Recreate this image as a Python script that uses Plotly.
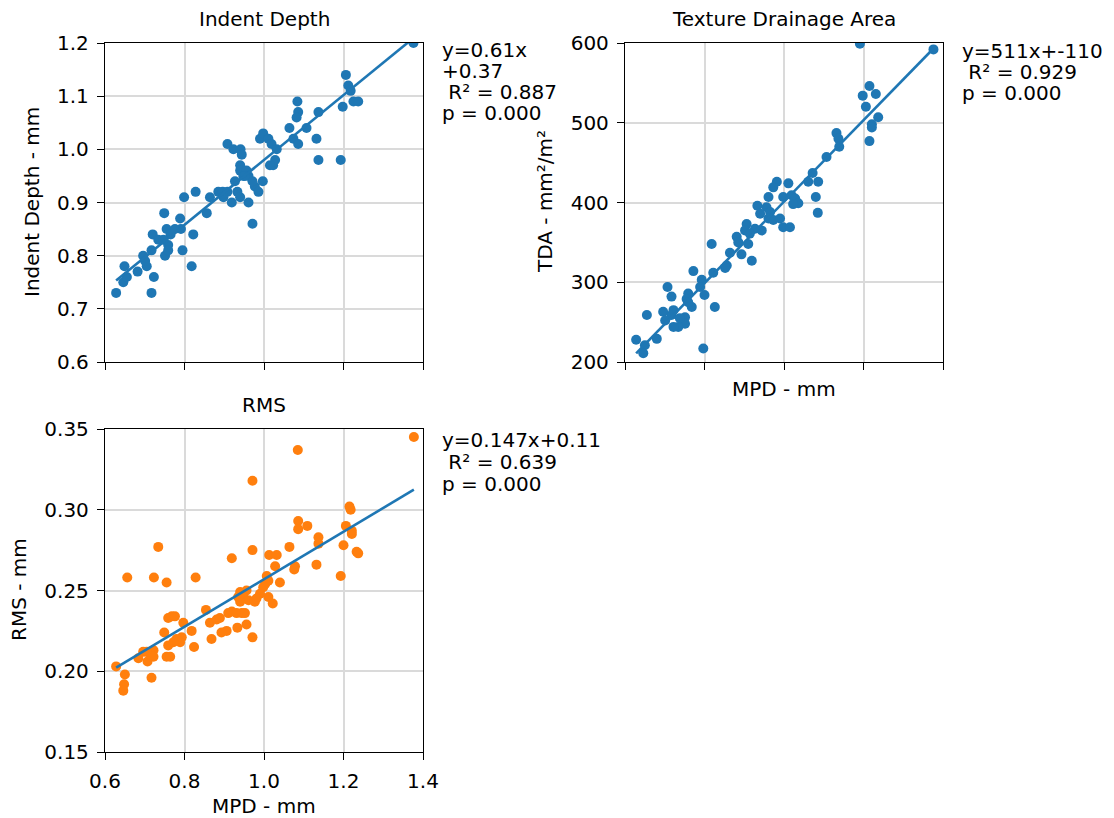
import plotly.graph_objects as go

W, H = 1114, 818
PAGE_MARGIN = 8  # the page body adds 8px around the plot div
FONT = "DejaVu Sans"
BLUE = "#1f77b4"
ORANGE = "#ff7f0e"

# ---- data (x = MPD in mm) ----
mpd_depth = [0.628, 0.649, 0.646, 0.655, 0.682, 0.696, 0.705, 0.701, 0.717, 0.723,
             0.717, 0.720, 0.734, 0.749, 0.755, 0.751, 0.759, 0.765, 0.759, 0.747,
             0.789, 0.791, 0.795, 0.799, 0.776, 0.822, 0.818, 0.828, 0.856, 0.864,
             0.885, 0.896, 0.908, 0.919, 0.908, 0.923, 0.941, 0.944, 0.940, 0.940,
             0.927, 0.933, 0.940, 0.956, 0.961, 0.948, 0.961, 0.971, 0.977, 0.986,
             0.971, 0.997, 0.990, 0.998, 1.011, 1.019, 1.023, 1.028, 1.032, 1.015,
             1.064, 1.074, 1.084, 1.086, 1.082, 1.086, 1.107, 1.137, 1.132, 1.137,
             1.193, 1.198, 1.206, 1.212, 1.218, 1.225, 1.237, 1.376, 0.898, 0.952]
depth = [0.73, 0.78, 0.75, 0.76, 0.77, 0.80, 0.78, 0.79, 0.73, 0.76,
         0.81, 0.84, 0.83, 0.88, 0.85, 0.80, 0.82, 0.84, 0.81, 0.83,
         0.87, 0.85, 0.81, 0.91, 0.85, 0.84, 0.78, 0.92, 0.88, 0.91,
         0.92, 0.92, 0.92, 0.90, 1.01, 1.00, 1.00, 0.99, 0.97, 0.96,
         0.94, 0.92, 0.91, 0.96, 0.95, 0.95, 0.90, 0.86, 0.93, 0.92,
         0.94, 0.94, 1.02, 1.03, 1.02, 1.01, 0.97, 0.98, 1.00, 0.97,
         1.04, 1.02, 1.09, 1.07, 1.06, 1.01, 1.04, 1.07, 1.02, 0.98,
         0.98, 1.08, 1.14, 1.12, 1.11, 1.09, 1.09, 1.20, 0.91, 0.95]

mpd_tda = [1.191, 1.376, 1.215, 1.198, 1.231, 1.206, 1.237, 1.221, 1.221, 1.215,
           1.132, 1.137, 1.139, 1.107, 1.072, 1.061, 1.086, 1.080, 1.085, 1.011,
           0.998, 1.019, 1.028, 1.036, 1.023, 0.982, 0.973, 0.961, 0.933, 0.956,
           0.965, 0.961, 0.973, 0.990, 0.940, 0.998, 1.015, 0.944, 0.927, 0.906,
           0.902, 0.914, 0.881, 0.885, 0.910, 0.864, 0.893, 0.919, 0.856, 0.852,
           0.818, 0.822, 0.793, 0.789, 0.800, 0.826, 0.772, 0.759, 0.755, 0.768,
           0.751, 0.751, 0.734, 0.722, 0.717, 0.722, 0.696, 0.701, 0.707, 0.717,
           0.655, 0.680, 0.628, 0.650, 0.646, 0.797, 0.759, 0.738]
tda = [599, 592, 546, 534, 536, 520, 507, 498, 494, 477,
       487, 480, 470, 457, 437, 426, 426, 407, 387, 424,
       407, 409, 405, 399, 398, 426, 419, 407, 396, 394,
       388, 380, 378, 380, 386, 369, 369, 365, 367, 373,
       365, 361, 357, 350, 348, 337, 335, 327, 321, 318,
       348, 312, 303, 294, 284, 269, 314, 286, 279, 269,
       256, 248, 244, 244, 259, 265, 263, 252, 294, 282,
       259, 229, 228, 221, 211, 217, 275, 255]

mpd_rms = [1.377, 1.085, 0.971, 1.215, 1.218, 1.086, 1.086, 1.109, 1.206, 1.221,
           1.221, 1.137, 1.137, 0.734, 1.064, 1.200, 1.233, 1.237, 0.971, 0.919,
           1.013, 1.032, 1.028, 1.078, 1.076, 1.132, 1.040, 1.193, 0.656, 0.723,
           0.755, 0.828, 1.007, 1.011, 1.003, 0.998, 0.940, 0.956, 0.948, 0.961,
           0.977, 0.940, 0.990, 1.011, 1.022, 0.854, 0.864, 0.881, 0.889, 0.910,
           0.919, 0.931, 0.944, 0.952, 0.956, 0.971, 0.933, 0.906, 0.893, 0.868,
           0.759, 0.768, 0.776, 0.797, 0.818, 0.749, 0.793, 0.789, 0.780, 0.772,
           0.759, 0.824, 0.755, 0.764, 0.722, 0.713, 0.705, 0.696, 0.722, 0.707,
           0.684, 0.628, 0.650, 0.648, 0.646, 0.717, 0.935, 0.981]
rms = [0.345, 0.337, 0.318, 0.302, 0.300, 0.293, 0.288, 0.290, 0.290, 0.287,
       0.285, 0.283, 0.279, 0.277, 0.277, 0.278, 0.274, 0.273, 0.275, 0.270,
       0.272, 0.272, 0.265, 0.265, 0.263, 0.266, 0.255, 0.259, 0.258, 0.258,
       0.255, 0.258, 0.259, 0.256, 0.254, 0.252, 0.249, 0.250, 0.246, 0.244,
       0.243, 0.243, 0.248, 0.246, 0.242, 0.238, 0.230, 0.232, 0.233, 0.236,
       0.237, 0.236, 0.236, 0.236, 0.229, 0.221, 0.227, 0.225, 0.224, 0.220,
       0.233, 0.234, 0.234, 0.230, 0.225, 0.224, 0.221, 0.218, 0.220, 0.218,
       0.216, 0.215, 0.209, 0.209, 0.213, 0.211, 0.212, 0.212, 0.209, 0.206,
       0.208, 0.203, 0.198, 0.192, 0.188, 0.196, 0.246, 0.245]

# fits as printed on the chart (slope, intercept)
fit_depth = (0.61, 0.37)
fit_tda = (511, -110)
fit_rms = (0.147, 0.11)

stats_depth = ["y=0.61x", "+0.37", "\u00a0R² = 0.887", "p = 0.000"]
stats_tda = ["y=511x+-110", "\u00a0R² = 0.929", "p = 0.000"]
stats_rms = ["y=0.147x+0.11", "\u00a0R² = 0.639", "p = 0.000"]

mpd_ticks = [0.6, 0.8, 1.0, 1.2, 1.4]
depth_ticks = [0.6, 0.7, 0.8, 0.9, 1.0, 1.1, 1.2]
tda_ticks = [200, 300, 400, 500, 600]
rms_ticks = [0.15, 0.20, 0.25, 0.30, 0.35]

FW, FH = W - PAGE_MARGIN, H - PAGE_MARGIN


# positions below are given in screen pixels and shifted into figure space
def px_x(p):
    return (p - PAGE_MARGIN) / FW


def px_y(p):
    return 1 - (p - PAGE_MARGIN) / FH


def axis(**kw):
    base = dict(showline=True, linecolor="black", linewidth=1.3, mirror=True,
                ticks="outside", ticklen=7, tickwidth=1.3, tickcolor="black",
                showgrid=True, gridcolor="#dadada", gridwidth=1.5,
                zeroline=False, automargin=False, ticklabelstandoff=4,
                tickfont=dict(family=FONT, size=20, color="black"))
    base.update(kw)
    return base


def fit_line(xs, fit, axes):
    lo, hi = min(xs), max(xs)
    a, b = fit
    return go.Scatter(x=[lo, hi], y=[a * lo + b, a * hi + b], mode="lines",
                      line=dict(color=BLUE, width=2.6), xaxis=axes[0], yaxis=axes[1],
                      hoverinfo="skip")


def dots(xs, ys, color, axes):
    return go.Scatter(x=xs, y=ys, mode="markers",
                      marker=dict(color=color, size=10, line=dict(width=0)),
                      xaxis=axes[0], yaxis=axes[1])


fig = go.Figure()
fig.add_trace(dots(mpd_depth, depth, BLUE, ("x", "y")))
fig.add_trace(fit_line(mpd_depth, fit_depth, ("x", "y")))
fig.add_trace(dots(mpd_tda, tda, BLUE, ("x2", "y2")))
fig.add_trace(fit_line(mpd_tda, fit_tda, ("x2", "y2")))
fig.add_trace(dots(mpd_rms, rms, ORANGE, ("x3", "y3")))
fig.add_trace(fit_line(mpd_rms, fit_rms, ("x3", "y3")))

# panel boxes in pixels: left, right, top, bottom
p1 = (105, 423, 43, 362)
p2 = (625, 943, 43, 362)
p3 = (105, 423, 429, 752)


def dom(p):
    return [px_x(p[0]), px_x(p[1])], [px_y(p[3]), px_y(p[2])]


d1, d2, d3 = dom(p1), dom(p2), dom(p3)

fig.update_layout(
    xaxis=axis(domain=d1[0], anchor="y", range=[0.6, 1.4], tickvals=mpd_ticks,
               showticklabels=False),
    yaxis=axis(domain=d1[1], anchor="x", range=[0.6, 1.2], tickvals=depth_ticks,
               tickformat=".1f"),
    xaxis2=axis(domain=d2[0], anchor="y2", range=[0.6, 1.4], tickvals=mpd_ticks,
                showticklabels=False),
    yaxis2=axis(domain=d2[1], anchor="x2", range=[200, 600], tickvals=tda_ticks),
    xaxis3=axis(domain=d3[0], anchor="y3", range=[0.6, 1.4], tickvals=mpd_ticks,
                tickformat=".1f"),
    yaxis3=axis(domain=d3[1], anchor="x3", range=[0.15, 0.35], tickvals=rms_ticks,
                tickformat=".2f"),
)


def label(text, x, y, angle=0, xanchor="center"):
    fig.add_annotation(text=text, x=px_x(x), y=px_y(y), xref="paper", yref="paper",
                       showarrow=False, xanchor=xanchor, yanchor="middle",
                       textangle=angle, borderpad=0,
                       font=dict(family=FONT, size=20, color="black"))


# titles
label("Indent Depth", 264, 19)
label("Texture Drainage Area", 784, 19)
label("RMS", 264, 405)
# axis titles
label("Indent Depth - mm", 32, 202, angle=-90)
label("TDA - mm²/m²", 545, 202, angle=-90)
label("RMS - mm", 19, 590, angle=-90)
label("MPD - mm", 784, 389)
label("MPD - mm", 264, 806)

# fit statistics
for i, t in enumerate(stats_depth):
    label(t, 441, 49.5 + 21.2 * i, xanchor="left")
for i, t in enumerate(stats_tda):
    label(t, 961, 51 + 21.2 * i, xanchor="left")
for i, t in enumerate(stats_rms):
    label(t, 441, 440 + 22 * i, xanchor="left")

fig.update_layout(
    width=FW, height=FH, template="none",
    margin=dict(l=0, r=0, t=0, b=0),
    paper_bgcolor="white", plot_bgcolor="white",
    showlegend=False,
    font=dict(family=FONT, size=20, color="black"),
)

fig.write_html("out.html")
